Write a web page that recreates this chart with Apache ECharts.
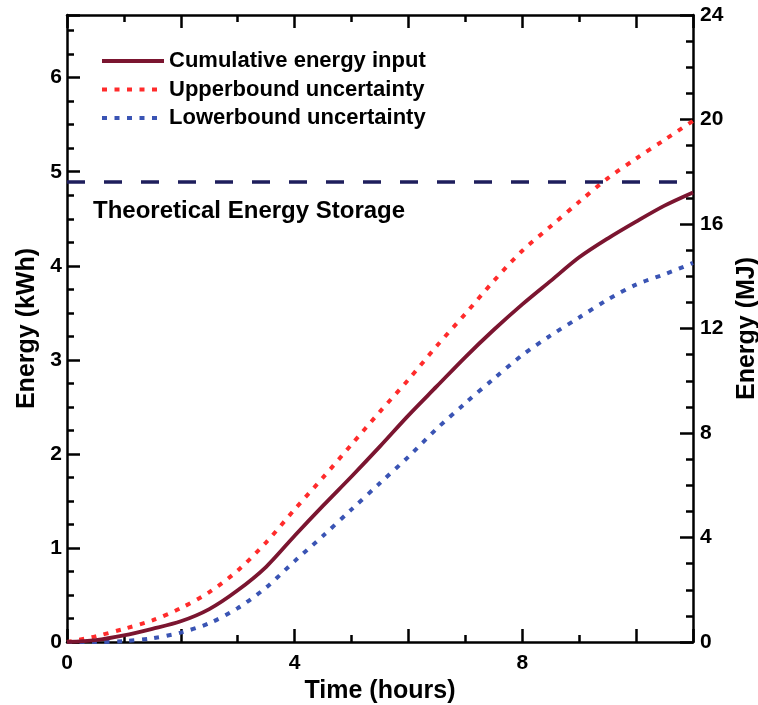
<!DOCTYPE html>
<html>
<head>
<meta charset="utf-8">
<script src="https://cdn.jsdelivr.net/npm/echarts@6/dist/echarts.min.js"></script>
<style>
html, body { margin: 0; padding: 0; background: #fff; }
#chart { width: 758px; height: 705px; }
</style>
</head>
<body>
<div id="chart"></div>
<script>
// time (hours)
var hours = [0, 0.5, 1, 1.5, 2, 2.5, 3, 3.5, 4, 4.5, 5, 5.5, 6, 6.5, 7, 7.5, 8, 8.5, 9, 9.5, 10, 10.5, 11];
// energy (kWh)
var cumulative = [0, 0.02, 0.07, 0.14, 0.22, 0.35, 0.55, 0.80, 1.13, 1.45, 1.76, 2.08, 2.41, 2.72, 3.03, 3.32, 3.59, 3.84, 4.09, 4.29, 4.47, 4.64, 4.78];
var upperBound = [0, 0.06, 0.14, 0.23, 0.36, 0.53, 0.76, 1.06, 1.41, 1.75, 2.10, 2.45, 2.79, 3.15, 3.49, 3.84, 4.16, 4.42, 4.68, 4.93, 5.14, 5.34, 5.54];
var lowerBound = [0, 0.00, 0.01, 0.04, 0.10, 0.20, 0.36, 0.58, 0.86, 1.13, 1.41, 1.69, 1.97, 2.27, 2.54, 2.80, 3.05, 3.26, 3.45, 3.64, 3.80, 3.91, 4.03];
var theoretical = 4.89;
var seriesNames = ['Cumulative energy input', 'Upperbound uncertainty', 'Lowerbound uncertainty'];

function pairs(ys) {
    return hours.map(function (h, i) { return [h, ys[i]]; });
}

var font = 'Liberation Sans, Arial, sans-serif';
var axisLine = { onZero: false, lineStyle: { color: '#000', width: 2.5 } };
var majorTick = { inside: true, length: 13, lineStyle: { color: '#000', width: 2.5 } };
var nameStyle = { fontFamily: font, fontWeight: 'bold', fontSize: 25, color: '#000' };

var chart = echarts.init(document.getElementById('chart'));
var option = {
    animation: false,
    grid: { left: 67, right: 65, top: 15, bottom: 63, outerBoundsMode: 'none', containLabel: false },
    legend: {
        data: seriesNames,
        orient: 'vertical',
        left: 95,
        top: 45,
        itemWidth: 62,
        itemHeight: 22,
        itemGap: 6.5,
        itemStyle: { opacity: 0, borderWidth: 0 },
        lineStyle: { width: 4 },
        textStyle: { fontFamily: font, fontWeight: 'bold', fontSize: 22, color: '#000' }
    },
    xAxis: [{
        type: 'value',
        min: 0, max: 11, interval: 2,
        name: 'Time (hours)',
        nameLocation: 'middle',
        nameGap: 33.5,
        nameTextStyle: nameStyle,
        axisLine: axisLine,
        axisTick: majorTick,
        minorTick: { show: true, splitNumber: 2, length: 7, lineStyle: { color: '#000', width: 2.5 } },
        splitLine: { show: false },
        axisLabel: {
            margin: 11, fontFamily: font, fontWeight: 'bold', fontSize: 21, color: '#000',
            formatter: function (v) { return v % 4 === 0 ? String(v) : ''; }
        }
    }, {
        type: 'value',
        position: 'top',
        min: 0, max: 11, interval: 2,
        axisLine: axisLine,
        axisTick: majorTick,
        minorTick: { show: true, splitNumber: 2, length: 7, lineStyle: { color: '#000', width: 2.5 } },
        splitLine: { show: false },
        axisLabel: { show: false }
    }],
    yAxis: [{
        type: 'value',
        min: 0, max: 24 / 3.6, interval: 1,
        name: 'Energy (kWh)',
        nameLocation: 'middle',
        nameRotate: 90,
        nameGap: 27,
        nameTextStyle: nameStyle,
        axisLine: axisLine,
        axisTick: majorTick,
        minorTick: { show: true, splitNumber: 4, length: 7, lineStyle: { color: '#000', width: 2.5 } },
        splitLine: { show: false },
        axisLabel: {
            margin: 5, fontFamily: font, fontWeight: 'bold', fontSize: 21, color: '#000',
            formatter: function (v) { return Math.abs(v - Math.round(v)) < 1e-6 ? String(Math.round(v)) : ''; }
        }
    }, {
        type: 'value',
        position: 'right',
        min: 0, max: 24, interval: 4,
        name: 'Energy (MJ)',
        nameLocation: 'middle',
        nameRotate: 90,
        nameGap: 39.5,
        nameTextStyle: nameStyle,
        axisLine: axisLine,
        axisTick: majorTick,
        minorTick: { show: true, splitNumber: 4, length: 7, lineStyle: { color: '#000', width: 2.5 } },
        splitLine: { show: false },
        axisLabel: { margin: 7, fontFamily: font, fontWeight: 'bold', fontSize: 21, color: '#000' }
    }],
    graphic: [{
        type: 'text',
        left: 93,
        top: 199,
        style: { text: 'Theoretical Energy Storage', fontFamily: font, fontWeight: 'bold', fontSize: 24, fill: '#000' }
    }],
    series: [{
        name: seriesNames[0],
        type: 'line',
        smooth: 0.3,
        symbol: 'none',
        color: '#7b1530',
        lineStyle: { color: '#7b1530', width: 3.8 },
        data: pairs(cumulative),
        z: 4,
        markLine: {
            silent: true,
            symbol: 'none',
            label: { show: false },
            lineStyle: { color: '#1e1e5c', width: 3.5, type: [18, 19] },
            data: [{ yAxis: theoretical }]
        }
    }, {
        name: seriesNames[1],
        type: 'line',
        smooth: 0.3,
        symbol: 'none',
        color: '#ff2b2b',
        lineStyle: { color: '#ff2b2b', width: 4, type: [5, 7.5] },
        data: pairs(upperBound)
    }, {
        name: seriesNames[2],
        type: 'line',
        smooth: 0.3,
        symbol: 'none',
        color: '#3a54b4',
        lineStyle: { color: '#3a54b4', width: 4, type: [5, 7.5] },
        data: pairs(lowerBound)
    }]
};
chart.setOption(option);
</script>
</body>
</html>
